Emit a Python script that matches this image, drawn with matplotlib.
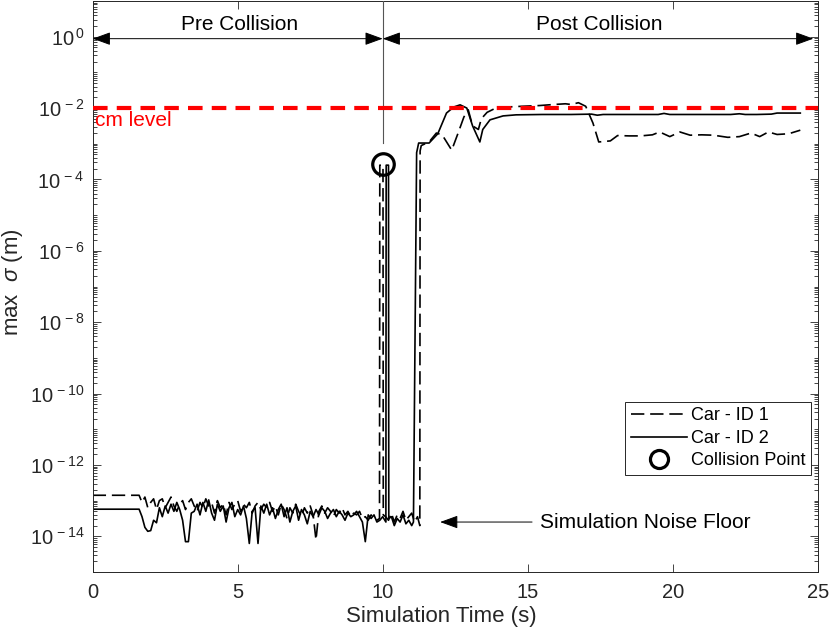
import numpy as np
import matplotlib
matplotlib.use("Agg")
import matplotlib.pyplot as plt
from matplotlib.ticker import FixedLocator, LogLocator, NullLocator, FuncFormatter, NullFormatter
from matplotlib.lines import Line2D

plt.rcParams['font.family'] = ['Liberation Sans', 'DejaVu Sans']
plt.rcParams['mathtext.fontset'] = 'custom'
plt.rcParams['mathtext.rm'] = 'Liberation Sans'
plt.rcParams['mathtext.it'] = 'Liberation Sans:italic'

# ---------------- data (log10 of max sigma in m) ----------------
# Car - ID 2 (solid)
s_head_t = [0.0]
s_head_lg = [-13.24]
s_noise_lg = [-13.24, -13.45, -13.75, -13.86,
              -13.84, -13.55, -13.62, -13.20, -13.45, -13.15, -13.35, -13.10, -13.30, -13.05,
              -13.25, -13.55, -14.15, -14.15, -13.35, -13.30, -13.10, -13.40, -13.05, -13.30,
              -12.98, -13.35, -13.55, -13.10, -13.30, -13.15, -13.60, -13.20, -13.05, -13.45,
              -13.25, -13.40, -13.15, -13.50, -14.20, -13.30, -13.20, -14.20, -13.15, -13.35,
              -13.10, -13.40, -13.20, -13.50, -13.25, -13.10, -13.45, -13.20, -13.60, -13.30,
              -13.15, -13.55, -13.25, -13.40, -13.65, -13.30, -13.45, -13.25, -13.40, -13.20,
              -13.30, -13.50, -13.35, -13.25, -13.45, -13.30, -13.40, -13.55, -13.35, -13.45,
              -13.40, -13.30, -13.45, -13.60, -14.15, -13.40, -13.50, -13.40, -13.60, -13.55,
              -13.45]
s_spike_t = [10.11, 10.12, 10.20, 10.21, 10.3, 10.4, 10.5, 10.6, 10.7, 10.8, 10.9, 11.0]
s_spike_lg = [-13.60, -3.60, -3.60, -13.50, -13.45, -13.70, -13.50, -13.60, -13.40, -13.65, -13.55, -13.70]
s_post_t = [11.06, 11.17, 11.24, 11.6, 11.9, 12.2, 12.45, 12.67, 12.9, 13.1, 13.35, 13.45,
            13.7, 14.15, 14.6, 15.5, 16.5, 17.2, 17.4, 17.6, 18.5, 19.5, 19.7, 19.9, 21.0,
            22.0, 22.3, 22.5, 22.9, 23.4, 23.6, 24.4]
s_post_lg = [-13.60, -3.25, -2.98, -2.98, -2.72, -2.14, -1.97, -1.91, -2.00, -2.50, -2.95, -2.60,
             -2.33, -2.22, -2.19, -2.18, -2.18, -2.17, -2.20, -2.18, -2.18, -2.18, -2.15, -2.18, -2.18,
             -2.18, -2.16, -2.18, -2.18, -2.17, -2.14, -2.14]

# Car - ID 1 (dashed)
d_head_t = [0.0]
d_head_lg = [-12.85]
d_noise_lg = [-12.85, -13.05, -12.90, -13.20,
              -13.05, -12.95, -13.25, -13.00, -12.95, -13.20, -13.05, -12.90, -13.15, -13.30,
              -13.10, -13.00, -13.25, -13.05, -12.95, -13.15, -13.30, -13.05, -13.20, -12.95,
              -13.15, -13.05, -13.35, -13.00, -13.20, -13.10, -13.40, -13.05, -13.25, -13.10,
              -13.00, -13.30, -13.10, -13.20, -13.05, -13.35, -13.15, -13.05, -13.25, -13.10,
              -13.20, -13.05, -13.30, -13.15, -13.40, -13.10, -13.25, -13.50, -13.20, -13.35,
              -13.10, -13.30, -13.45, -13.20, -13.35, -13.15, -13.40, -14.10, -13.30, -13.15,
              -13.35, -13.20, -13.30, -13.45, -13.25, -13.35, -13.20, -13.40, -13.30, -13.45,
              -13.35, -13.40, -13.30, -13.50, -13.45, -13.55, -13.40, -13.50, -13.55]
d_spike_t = [9.89, 9.90, 10.01, 10.02, 10.1, 10.2, 10.3, 10.4, 10.5, 10.6, 10.7, 10.8, 10.9,
             11.0, 11.1, 11.2]
d_spike_lg = [-13.50, -3.60, -3.60, -13.40, -13.45, -13.55, -13.35, -13.60, -13.40, -13.50,
              -13.30, -13.55, -13.45, -13.35, -13.60, -13.45]
d_post_t = [11.28, 11.29, 11.33, 11.6, 11.85, 12.05, 12.38, 12.6, 12.8, 12.95, 13.1, 13.3,
            13.4, 13.6, 13.9, 14.3, 14.8, 15.4, 15.9, 16.3, 16.5, 16.75, 17.0, 17.25, 17.45,
            17.85, 18.1, 18.5, 18.9, 19.3, 19.55, 19.9, 20.25, 20.6, 21.0, 21.4, 21.9, 22.3,
            22.7, 23.0, 23.3, 23.6, 24.0, 24.4]
d_post_lg = [-13.70, -3.20, -3.05, -2.95, -2.70, -2.75, -3.18, -2.70, -2.25, -2.05, -2.50, -2.60,
             -2.30, -2.12, -2.00, -1.97, -1.95, -1.93, -1.90, -1.88, -1.90, -1.85, -1.95, -2.42, -2.95,
             -2.92, -2.77, -2.78, -2.78, -2.75, -2.67, -2.80, -2.67, -2.76, -2.75, -2.76, -2.82, -2.80,
             -2.70, -2.80, -2.67, -2.74, -2.72, -2.62]

collision_t = [10.0]
collision_val = [2.7e-4]
cm_level = 1e-2

ytick_exps = [0, -2, -4, -6, -8, -10, -12, -14]
xticks = [0, 5, 10, 15, 20, 25]

# sample grids for the noise segments (0.1 s simulation steps)
s_noise_t = np.round(1.6 + 0.1 * np.arange(len(s_noise_lg)), 2)
d_noise_t = np.round(1.6 + 0.1 * np.arange(len(d_noise_lg)), 2)

s_t = np.concatenate([s_head_t, s_noise_t, s_spike_t, s_post_t])
s_v = 10.0 ** np.concatenate([s_head_lg, s_noise_lg, s_spike_lg, s_post_lg])
d_t = np.concatenate([d_head_t, d_noise_t, d_spike_t, d_post_t])
d_v = 10.0 ** np.concatenate([d_head_lg, d_noise_lg, d_spike_lg, d_post_lg])

# ---------------- figure ----------------
W, H = 830, 634
fig = plt.figure(figsize=(W / 100, H / 100), dpi=100)
ax = fig.add_axes([92.7 / W, 1 - 572 / H, 725 / W, 571 / H])

axcol = '#262626'
ax.plot(d_t, d_v, color='black', lw=1.2, linestyle=(0, (8, 3.5)), label='Car - ID 1')
ax.plot(s_t, s_v, color='black', lw=1.2, label='Car - ID 2')
ax.plot(collision_t, collision_val, linestyle='none', marker='o', ms=15.5, mfc='none',
        mec='black', mew=2.3, label='Collision Point', zorder=6)

ax.axhline(cm_level, color='#ff0000', lw=3.0, linestyle=(0, (3.5, 2.2)), zorder=7)
ax.text(0.08, 10 ** -2.36, 'cm level', color='#ff0000', fontsize=15, va='center', ha='left')

ax.set_yscale('log')
ax.set_xlim(0, 25)
ax.set_ylim(1e-15, 1e1)

# vertical collision line
ax.plot([10, 10], [1e1, 1.05e-3], color='#555555', lw=0.8, zorder=3)

# region arrows
arr_y = 0.88
ap = dict(arrowstyle='<|-|>,head_length=0.55,head_width=0.2', color='black', lw=0.7,
          shrinkA=0, shrinkB=0, mutation_scale=20)
ax.annotate('', xy=(0, arr_y), xytext=(10, arr_y), arrowprops=ap)
ax.annotate('', xy=(10, arr_y), xytext=(24.85, arr_y), arrowprops=ap)
ax.text(5.05, 10 ** 0.35, 'Pre Collision', fontsize=15, ha='center', va='center', color='black')
ax.text(17.45, 10 ** 0.35, 'Post Collision', fontsize=15, ha='center', va='center', color='black')

# noise floor annotation
ax.annotate('', xy=(11.98, 10 ** -13.6), xytext=(15.15, 10 ** -13.6),
            arrowprops=dict(arrowstyle='-|>,head_length=0.55,head_width=0.2', color='black',
                            lw=0.7, shrinkA=0, shrinkB=0, mutation_scale=20))
ax.text(15.42, 10 ** -13.6, 'Simulation Noise Floor', fontsize=15, ha='left', va='center')

# ticks
ax.xaxis.set_major_locator(FixedLocator(xticks))
ax.xaxis.set_minor_locator(NullLocator())
ax.yaxis.set_major_locator(FixedLocator([10.0 ** e for e in ytick_exps]))
ax.yaxis.set_minor_locator(LogLocator(base=10, subs=np.arange(1, 10), numticks=400))
ax.yaxis.set_minor_formatter(NullFormatter())
ax.yaxis.set_major_formatter(FuncFormatter(
    lambda v, p: r'$\mathregular{10^{\,%d}}$' % int(round(np.log10(v)))))
ax.tick_params(which='both', direction='in', top=True, right=True, colors=axcol,
               labelcolor=axcol, width=0.6)
ax.tick_params(which='major', length=5.5)
ax.tick_params(which='minor', length=3)
ax.tick_params(axis='x', labelsize=14.5, pad=8)
ax.tick_params(axis='y', labelsize=14.5, pad=6)
for sp in ax.spines.values():
    sp.set_color(axcol)
    sp.set_linewidth(0.7)

ax.set_xlabel('Simulation Time (s)', fontsize=16, color=axcol)
ax.xaxis.set_label_coords((441 - 92.7) / 725, -(606 - 572) / 571)
ax.set_ylabel(r'max  $\sigma$ (m)', fontsize=16, color=axcol)
ax.yaxis.set_label_coords(-(92.7 - 25) / 725, (572 - 282) / 571)

h = [Line2D([], [], color='black', lw=1.2, linestyle=(0, (8, 3.5))),
     Line2D([], [], color='black', lw=1.2),
     Line2D([], [], linestyle='none', marker='o', ms=13, mfc='none', mec='black', mew=2.3)]
leg = ax.legend(h, ['Car - ID 1', 'Car - ID 2', 'Collision Point'], loc='upper right',
                bbox_to_anchor=((811 - 92.7) / 725, (572 - 402) / 571), borderaxespad=0,
                fontsize=13, frameon=True, fancybox=False, handlelength=3.1,
                handletextpad=0.25, labelspacing=0.3, borderpad=0.3)
leg.get_frame().set_edgecolor(axcol)
leg.get_frame().set_linewidth(0.7)
leg.get_frame().set_alpha(1)

fig.savefig('out.png', dpi=100)
